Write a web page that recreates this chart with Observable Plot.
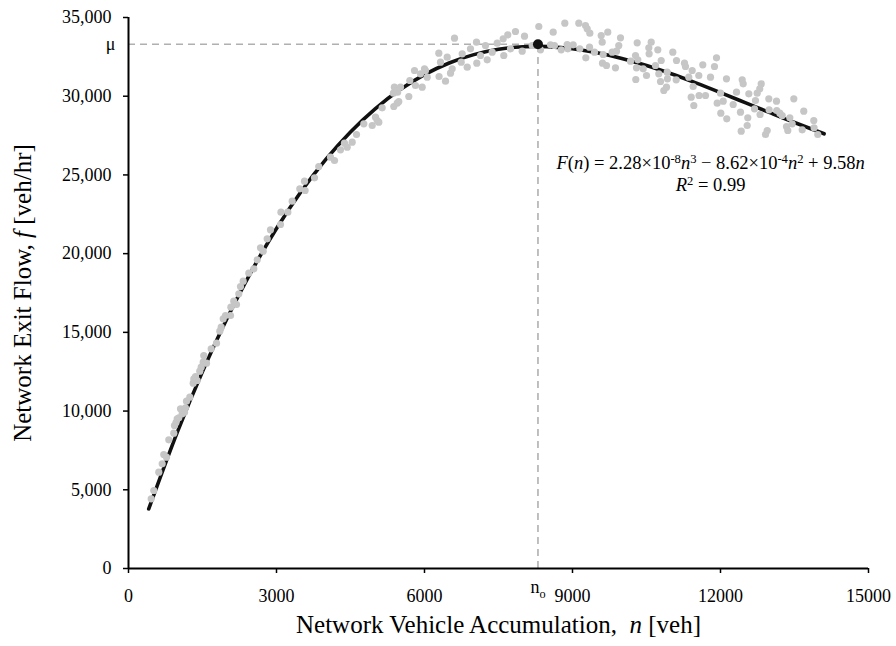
<!DOCTYPE html>
<html>
<head>
<meta charset="utf-8">
<script src="https://cdn.jsdelivr.net/npm/d3@7"></script>
<script src="https://cdn.jsdelivr.net/npm/@observablehq/plot@0.6"></script>
<style>
  html, body { margin: 0; padding: 0; background: #fff; }
  #chart svg { font-family: "Liberation Serif", "Times New Roman", serif; }
</style>
</head>
<body>
<div id="chart"></div>
<script>
// Observed network accumulation n [veh] and exit flow f [veh/hr]
const obsN = [460,513,614,683,715,770,817,918,932,963,987,1020,1054,1088,1135,1155,1176,1243,1311,1324,1358,1393,1445,1474,1514,1526,1581,1676,1784,1851,1879,1920,1966,2068,2075,2134,2189,2236,2270,2325,2439,2540,2609,2676,2730,2811,2878,3081,3090,3229,3318,3472,3568,3580,3770,3857,4095,4176,4297,4378,4433,4534,4622,4770,4940,5007,5041,5074,5142,5378,5370,5447,5479,5390,5455,5513,5682,5702,5797,5817,5919,5953,6000,6020,6055,6290,6295,6324,6426,6460,6527,6561,6608,6744,6764,6866,6932,7054,7060,7135,7236,7271,7372,7474,7595,7607,7688,7743,7844,7980,8027,8183,8317,8351,8554,8609,8635,8771,8844,8892,8905,9014,9128,9148,9264,9270,9298,9351,9345,9446,9582,9602,9608,9622,9689,9715,9805,9871,9892,9938,9973,10176,10277,10283,10297,10311,10324,10433,10500,10547,10553,10595,10682,10729,10749,10784,10798,10851,10905,10919,10925,11033,11102,11108,11270,11290,11357,11406,11426,11446,11459,11560,11566,11641,11696,11797,11878,11919,11933,12000,12006,12055,12121,12127,12257,12324,12405,12420,12440,12460,12541,12553,12574,12689,12709,12744,12796,12802,12825,12912,12947,12979,12985,13135,13140,13202,13250,13338,13364,13405,13453,13486,13656,13688,13891,13897,13972];
const obsF = [4427,4955,6117,6650,7241,7070,8175,8594,9083,9274,9509,9572,10144,9827,9928,10208,10627,10881,11770,12050,12196,11942,12533,12787,13104,13530,13041,13955,14311,15073,15328,15861,16071,16071,16598,16979,16769,17449,17913,18249,18757,19037,19609,20371,20155,20942,21514,21851,22632,22632,23331,24119,24601,24011,24817,25535,26126,25916,26596,27015,26761,27079,27568,28247,28139,28667,28457,28349,29264,29346,30191,29556,29664,30572,30255,30572,29981,30998,31633,30680,31423,30572,31741,31633,31207,32732,31252,32160,30953,32478,31461,31741,33685,32160,32694,31843,33011,33431,32097,32586,33221,32313,32796,33367,33647,32586,33901,33011,34110,32859,33812,33221,34428,32948,33266,34066,33221,32948,34637,33284,33011,33266,34637,33011,34491,32440,34282,34002,33113,32796,33856,33431,32097,32649,31951,34066,32796,31804,32859,33221,33710,32224,32586,31061,31804,33392,32313,31741,31315,33075,32694,33431,31951,32948,31423,30934,32268,30363,30572,31525,31106,32796,31042,32268,32097,31887,31207,29937,31633,30617,29410,31315,30045,31995,30045,31207,31887,32440,29556,30191,28921,29683,31106,28565,29473,30255,28984,27777,31042,30788,28139,28628,30153,29200,29727,30191,30471,28838,30788,27568,27822,29835,29136,29683,29092,28921,28775,28076,27822,28628,28247,29835,27866,29048,28457,27993,27568];

// Fitted curve F(n)
const fitN = [410,1000,1500,2000,2500,3000,3500,4000,4500,5000,5500,6000,6500,7000,7500,8000,8300,8500,9000,9500,10000,10500,11000,11500,12000,12500,13000,13500,14100];
const fitF = [3784,8741,12507,15894,18919,21598,23948,25987,27732,29200,30408,31373,32112,32642,32981,33146,33168,33152,33019,32762,32400,31948,31425,30846,30230,29594,28954,28327,27614];

// Capacity point
const nOpt = 8300;
const mu = 33300;

// Tick values
const xTicks = [0,3000,6000,9000,12000,15000];
const yTicks = [0,5000,10000,15000,20000,25000,30000,35000];

const obs = obsN.map((n, i) => ({n, f: obsF[i]}));
const fit = fitN.map((n, i) => ({n, f: fitF[i]}));

const dashColor = "#b0b0b0";
const plot = Plot.plot({
  width: 896,
  height: 646,
  marginLeft: 128,
  marginRight: 28,
  marginTop: 17,
  marginBottom: 78,
  style: {fontFamily: "'Liberation Serif','Times New Roman',serif", background: "#fff", color: "#000"},
  x: {domain: [0, 15000]},
  y: {domain: [0, 35000]},
  marks: [
    Plot.ruleY([mu], {x1: 0, x2: nOpt, stroke: dashColor, strokeWidth: 1.6, strokeDasharray: "7,5"}),
    Plot.ruleX([nOpt], {y1: 0, y2: mu, stroke: dashColor, strokeWidth: 1.6, strokeDasharray: "7,5"}),
    Plot.line(fit, {x: "n", y: "f", stroke: "#111", strokeWidth: 3.6, curve: "catmull-rom"}),
    Plot.dot(obs, {x: "n", y: "f", r: 3.6, fill: "#c6c6c6", stroke: "none"}),
    Plot.dot([{n: nOpt, f: mu}], {x: "n", y: "f", r: 5, fill: "#111"}),
    Plot.axisX({ticks: xTicks, tickFormat: d => String(d), tickSize: 5, tickPadding: 16, fontSize: 18, strokeWidth: 1.5, label: null}),
    Plot.axisY({ticks: yTicks, tickFormat: d3.format(","), tickSize: 5, tickPadding: 12, fontSize: 18, strokeWidth: 1.5, label: null}),
    Plot.ruleX([0], {y1: 0, y2: 35000, stroke: "#000", strokeWidth: 2}),
    Plot.ruleY([0], {x1: 0, x2: 15000, stroke: "#000", strokeWidth: 2}),
    Plot.text(["μ"], {x: 0, y: mu, dx: -13, textAnchor: "end", fontSize: 18}),
    Plot.text(["@NO"], {x: nOpt, y: 0, dy: 19, fontSize: 18}),
    Plot.text(["@EQ1"], {x: 11800, y: 25740, fontSize: 18.5}),
    Plot.text(["@EQ2"], {x: 11800, y: 24360, fontSize: 18.5}),
    Plot.text(["@XT"], {frameAnchor: "bottom", dy: 64, fontSize: 25}),
    Plot.text(["@YT"], {frameAnchor: "left", textAnchor: "middle", dx: -106, rotate: -90, fontSize: 25})
  ]
});

document.getElementById("chart").appendChild(plot);

function rich(placeholder, parts) {
  d3.select(plot).selectAll("text").each(function() {
    if (this.textContent !== placeholder) return;
    const t = d3.select(this);
    t.text(null);
    let shift = 0;
    for (const [str, kind] of parts) {
      const ts = t.append("tspan").text(str);
      let target = 0;
      if (kind && kind.includes("sup")) target = -6;
      if (kind && kind.includes("sub")) target = 5;
      if (target !== shift) { ts.attr("dy", target - shift); shift = target; }
      if (kind && (kind.includes("sup") || kind.includes("sub"))) ts.attr("font-size", "0.68em");
      if (kind && kind.includes("i")) ts.attr("font-style", "italic");
    }
  });
}

rich("@NO", [["n", ""], ["o", "sub"]]);
rich("@EQ1", [["F", "i"], ["(", ""], ["n", "i"], [") = 2.28×10", ""], ["-8", "sup"], ["n", "i"], ["3", "sup"], [" − 8.62×10", ""], ["-4", "sup"], ["n", "i"], ["2", "sup"], [" + 9.58", ""], ["n", "i"]]);
rich("@EQ2", [["R", "i"], ["2", "sup"], [" = 0.99", ""]]);
rich("@XT", [["Network Vehicle Accumulation,  ", ""], ["n", "i"], [" [veh]", ""]]);
rich("@YT", [["Network Exit Flow, ", ""], ["f", "i"], [" [veh/hr]", ""]]);
</script>
</body>
</html>
